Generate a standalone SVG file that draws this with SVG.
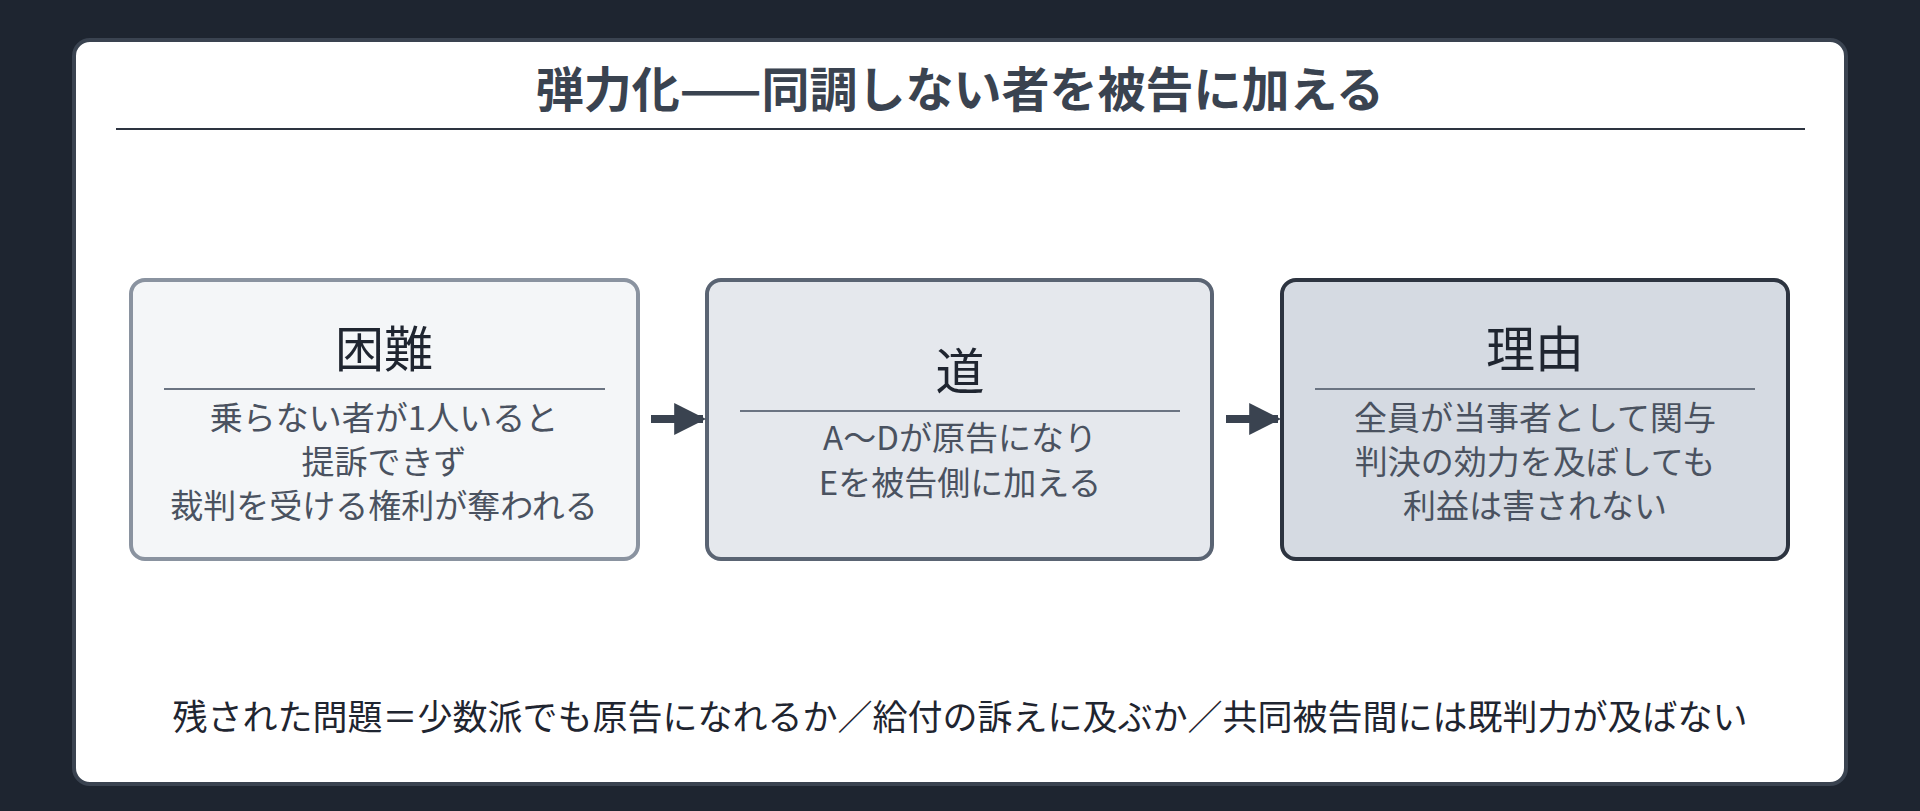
<svg xmlns="http://www.w3.org/2000/svg" width="1920" height="811" viewBox="0 0 1920 811">
<style>
text{font-family:"Noto Sans CJK JP","Noto Sans",sans-serif;text-anchor:middle;dominant-baseline:central}
.t{font-size:49px;fill:#1f2530}
.b{font-size:33px;fill:#4a5260}
.d{stroke:#6b7482;stroke-width:2}
</style>
<defs><marker id="ah" viewBox="0 0 10 10" refX="9" refY="5" markerWidth="4" markerHeight="4" orient="auto"><path d="M0,0L10,5L0,10z" fill="#3a4350"/></marker></defs>
<rect width="1920" height="811" fill="#1e2530"/>
<rect x="74" y="40" width="1772" height="744" rx="16" fill="#ffffff" stroke="#3a4350" stroke-width="4"/>
<text x="960" y="86" style="font-size:48px;font-weight:bold;fill:#3a4350">弾力化——同調しない者を被告に加える</text>
<line x1="116" y1="129" x2="1805" y2="129" stroke="#2d3440" stroke-width="2"/>
<g id="n1"><rect x="131" y="280" width="507" height="279" rx="14" fill="#f4f6f8" stroke="#8a93a0" stroke-width="4"/>
<text class="t" x="384" y="345">困難</text><line class="d" x1="164" y1="389" x2="605" y2="389"/>
<text class="b" x="384" y="416">乗らない者が1人いると</text><text class="b" x="384" y="460">提訴できず</text><text class="b" x="384" y="504">裁判を受ける権利が奪われる</text></g>
<g id="n2"><rect x="707" y="280" width="505" height="279" rx="14" fill="#e5e8ed" stroke="#5a6473" stroke-width="4"/>
<text class="t" x="960" y="367">道</text><line class="d" x1="740" y1="411" x2="1180" y2="411"/>
<text class="b" x="960" y="436">A～Dが原告になり</text><text class="b" x="960" y="481">Eを被告側に加える</text></g>
<g id="n3"><rect x="1282" y="280" width="506" height="279" rx="14" fill="#d5dae2" stroke="#2d3440" stroke-width="4"/>
<text class="t" x="1535" y="345">理由</text><line class="d" x1="1315" y1="389" x2="1755" y2="389"/>
<text class="b" x="1535" y="416">全員が当事者として関与</text><text class="b" x="1535" y="460">判決の効力を及ぼしても</text><text class="b" x="1535" y="504">利益は害されない</text></g>
<g id="connectors" stroke="#3a4350" stroke-width="8" fill="none" marker-end="url(#ah)">
<line x1="651" y1="419" x2="703" y2="419"/><line x1="1226" y1="419" x2="1278" y2="419"/></g>
<text x="960" y="714" style="font-size:35px;fill:#1f2530">残された問題＝少数派でも原告になれるか／給付の訴えに及ぶか／共同被告間には既判力が及ばない</text>
</svg>
